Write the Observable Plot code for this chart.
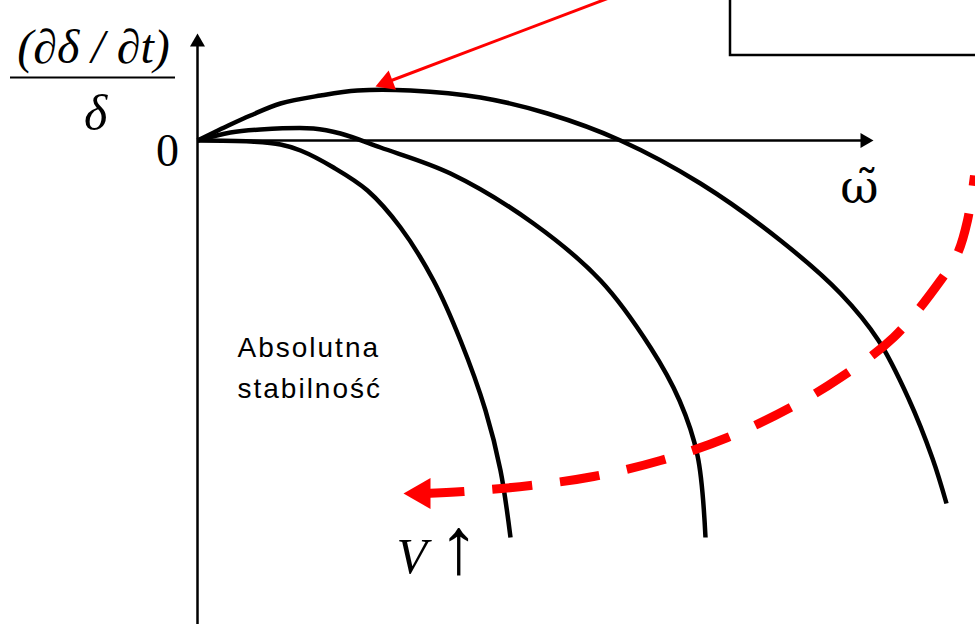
<!DOCTYPE html>
<html>
<head>
<meta charset="utf-8">
<script src="https://cdn.jsdelivr.net/npm/d3@7"></script>
<script src="https://cdn.jsdelivr.net/npm/@observablehq/plot@0.6"></script>
<style>
  html, body { margin: 0; padding: 0; background: #fff; }
</style>
</head>
<body>
<div id="chart"></div>
<script>
// Growth rate (∂δ/∂t)/δ against wavenumber ω̃ for three velocities V.
// One unit on either axis is 100 px.

// Lowest velocity: the widest, tallest curve
const outerOmega = [0, 0.33, 0.53, 0.83, 1.23, 1.60, 2.13, 2.83, 3.50, 4.23, 5.03, 5.83, 6.43, 6.81, 7.11, 7.35, 7.49];
const outerRate  = [0, 0.16, 0.25, 0.37, 0.45, 0.50, 0.50, 0.43, 0.27, 0.00, -0.43, -1.00, -1.53, -2.00, -2.58, -3.18, -3.63];

// Middle velocity
const middleOmega = [0, 0.33, 0.63, 1.16, 1.43, 1.83, 2.53, 3.36, 4.03, 4.53, 4.82, 5.00, 5.08];
const middleRate  = [0, 0.08, 0.11, 0.12, 0.07, -0.07, -0.33, -0.83, -1.40, -2.07, -2.60, -3.15, -3.97];

// Highest velocity: stable almost everywhere
const innerOmega = [0, 0.53, 0.83, 1.03, 1.36, 1.70, 2.03, 2.36, 2.63, 2.88, 3.03, 3.13];
const innerRate  = [0, -0.01, -0.04, -0.10, -0.27, -0.50, -0.87, -1.40, -2.00, -2.70, -3.30, -3.97];

// Dashed "V increasing" sweep, listed from the arrow tail outwards
const sweepOmega = [2.27, 2.66, 3.33, 3.96, 4.63, 5.30, 5.93, 6.43, 6.96, 7.43, 7.60, 7.70, 7.77];
const sweepRate  = [-3.53, -3.51, -3.45, -3.36, -3.20, -2.97, -2.67, -2.37, -1.97, -1.40, -1.13, -0.80, -0.35];
const sweepTip   = [2.06, -3.53];

// Pointer to the maximum of the lowest-velocity curve
const pointerFrom = [4.18, 1.45];
const pointerTip  = [1.78, 0.54];

// Axis extents
const axisBottom = -4.84;
const xAxisTip = 6.76;
const yAxisTip = 1.07;

// Framed note box (continues past the top-right corner)
const noteBox = [{x1: 5.33, x2: 7.95, y1: 0.85, y2: 1.50}];

const curves = [
  ...outerOmega.map((w, i) => ({curve: "outer", w, r: outerRate[i]})),
  ...middleOmega.map((w, i) => ({curve: "middle", w, r: middleRate[i]})),
  ...innerOmega.map((w, i) => ({curve: "inner", w, r: innerRate[i]}))
];
const sweep = sweepOmega.map((w, i) => ({w, r: sweepRate[i]}));

// Filled triangular arrowheads: Plot's triangle symbol is centred on its centroid,
// which sits one third of the height back from the tip.
const PX = 100; // pixels per unit
function head(tip, from, heightPx) {
  const dx = tip[0] - from[0], dy = tip[1] - from[1];
  const len = Math.hypot(dx, dy);
  const back = (heightPx * 2 / 3) / PX;
  const r = Math.sqrt(Math.pow(heightPx / 3, 2) * 3 * Math.sqrt(3) / Math.PI);
  return {
    w: tip[0] - dx / len * back,
    r: tip[1] - dy / len * back,
    rotate: Math.atan2(dx, dy) * 180 / Math.PI,
    size: r
  };
}
const sweepHead = head(sweepTip, [sweepOmega[0], sweepRate[0]], 27);
const pointerHead = head(pointerTip, pointerFrom, 18);
const yHead = head([0, yAxisTip], [0, 0], 13);
const xHead = head([xAxisTip, 0], [0, 0], 13);

const serif = "'Liberation Serif', 'Times New Roman', serif";

const chart = Plot.plot({
  width: 975,
  height: 624,
  margin: 0,
  x: {domain: [-1.97, 7.78], axis: null},
  y: {domain: [-4.84, 1.40], axis: null},
  r: {type: "identity"},
  style: {background: "#fff"},
  marks: [
    // note box
    Plot.rect(noteBox, {x1: "x1", x2: "x2", y1: "y1", y2: "y2", fill: "#fff", stroke: "#000", strokeWidth: 2.5}),

    // axes with arrowheads
    Plot.ruleX([0], {y1: axisBottom, y2: yHead.r, stroke: "#000", strokeWidth: 2.5}),
    Plot.ruleY([0], {x1: 0, x2: xHead.w, stroke: "#000", strokeWidth: 2.5}),
    Plot.dot([yHead, xHead], {x: "w", y: "r", r: "size", rotate: "rotate", symbol: "triangle", fill: "#000", stroke: null}),

    // growth-rate curves
    Plot.line(curves, {x: "w", y: "r", z: "curve", curve: "catmull-rom", stroke: "#000", strokeWidth: 4.5, strokeLinecap: "butt"}),

    // dashed sweep of increasing V
    Plot.line(sweep, {x: "w", y: "r", curve: "catmull-rom", stroke: "#ff0000", strokeWidth: 9, strokeDasharray: "40,28", strokeLinecap: "butt"}),
    Plot.dot([sweepHead], {x: "w", y: "r", r: "size", rotate: "rotate", symbol: "triangle", fill: "#ff0000", stroke: null}),

    // pointer to the peak
    Plot.link([{x1: pointerFrom[0], y1: pointerFrom[1], x2: pointerHead.w, y2: pointerHead.r}],
      {x1: "x1", y1: "y1", x2: "x2", y2: "y2", stroke: "#ff0000", strokeWidth: 3}),
    Plot.dot([pointerHead], {x: "w", y: "r", r: "size", rotate: "rotate", symbol: "triangle", fill: "#ff0000", stroke: null}),

    // y-axis label as a fraction
    Plot.text(["(∂δ / ∂t)"], {x: -1.04, y: 0.78, text: d => d, lineAnchor: "bottom", fontFamily: serif, fontStyle: "italic", fontSize: 48, fill: "#000"}),
    Plot.ruleY([0.63], {x1: -1.87, x2: -0.22, stroke: "#000", strokeWidth: 2}),
    Plot.text(["δ"], {x: -1.02, y: 0.11, text: d => d, lineAnchor: "bottom", fontFamily: serif, fontStyle: "italic", fontSize: 50, fill: "#000"}),
    Plot.text(["0"], {x: -0.30, y: -0.25, text: d => d, lineAnchor: "bottom", fontFamily: serif, fontSize: 46, fill: "#000"}),

    // x-axis label ω̃ (combining tilde, in a face that positions marks)
    Plot.text(["ω\u0303"], {x: 6.62, y: -0.62, text: d => d, lineAnchor: "bottom", fontFamily: "'DejaVu Serif', serif", fontSize: 47, fill: "#000"}),

    // stable region
    Plot.text(["Absolutna\nstabilność"], {x: 0.40, y: -2.57, text: d => d, textAnchor: "start", lineAnchor: "bottom", lineHeight: 1.43, fontFamily: "'Liberation Sans', Arial, sans-serif", fontSize: 28, fill: "#000"}),

    // V increases
    Plot.text(["V"], {x: 1.99, y: -4.32, text: d => d, textAnchor: "start", lineAnchor: "bottom", fontFamily: serif, fontStyle: "italic", fontSize: 50, fill: "#000"}),
    Plot.text(["↑"], {x: 2.61, y: -4.32, text: d => d, lineAnchor: "bottom", fontFamily: serif, fontSize: 80, fill: "#000"})
  ]
});

for (const t of chart.querySelectorAll("text")) {
  if (t.textContent.includes("Absolutna")) t.style.letterSpacing = "2px";
}

document.getElementById("chart").append(chart);
</script>
</body>
</html>
